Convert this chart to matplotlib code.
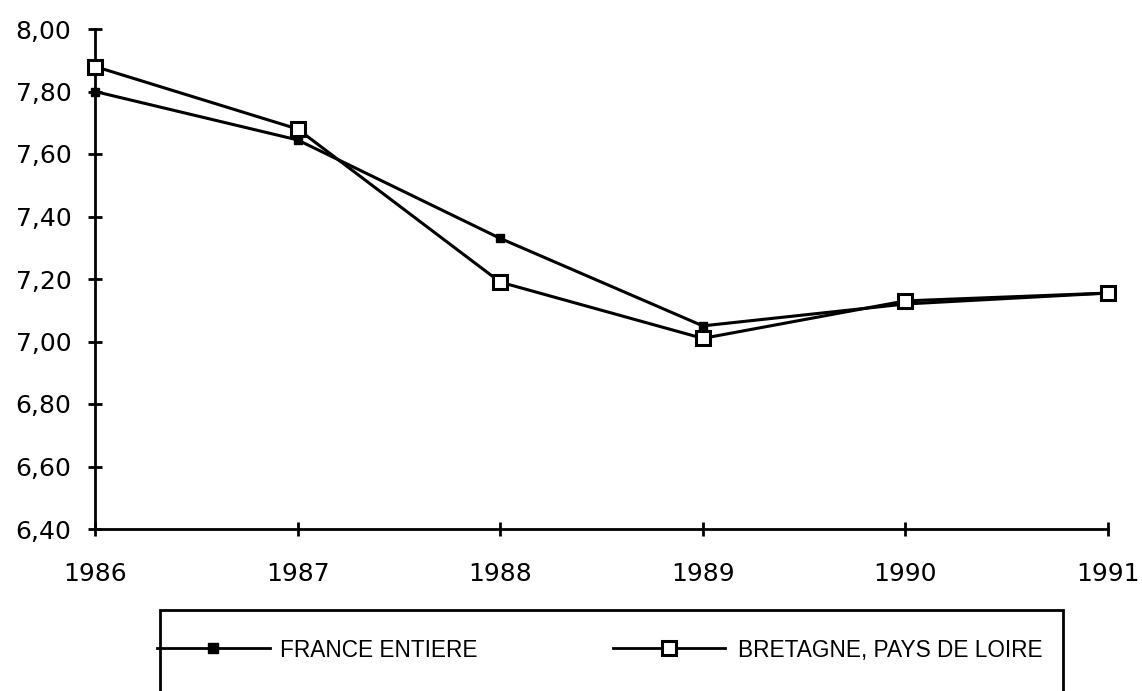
import matplotlib
matplotlib.use("Agg")
import matplotlib.pyplot as plt
from matplotlib.patches import Rectangle
from matplotlib.lines import Line2D

# donnees
annees = [1986, 1987, 1988, 1989, 1990, 1991]
france = [7.80, 7.645, 7.33, 7.05, 7.12, 7.155]
bretagne = [7.88, 7.68, 7.19, 7.01, 7.13, 7.155]
yticks = [6.40, 6.60, 6.80, 7.00, 7.20, 7.40, 7.60, 7.80, 8.00]
ylabels = ["6,40", "6,60", "6,80", "7,00", "7,20", "7,40", "7,60", "7,80", "8,00"]

plt.rcParams['font.family'] = ['DejaVu Sans']

W, H = 1142, 691
fig = plt.figure(figsize=(W / 100, H / 100), dpi=100)
ax = fig.add_axes([95 / W, (H - 529) / H, (1108 - 95) / W, (529 - 29) / H])

ax.plot(annees, france, color='black', lw=2.2, marker='s', ms=5.5,
        mfc='black', mec='black', clip_on=False, zorder=3)
ax.plot(annees, bretagne, color='black', lw=2.2, marker='s', ms=10.5,
        mfc='white', mec='black', mew=2.2, clip_on=False, zorder=4)

ax.set_xlim(1986, 1991)
ax.set_ylim(6.40, 8.00)
ax.set_xticks(annees)
ax.set_xticklabels([str(a) for a in annees], fontsize=18)
ax.set_yticks(yticks)
ax.set_yticklabels(ylabels, fontsize=18)
ax.tick_params(direction='inout', length=10, width=2)
ax.tick_params(axis='y', pad=12)
ax.tick_params(axis='x', pad=19)

for s in ['top', 'right']:
    ax.spines[s].set_visible(False)
for s in ['left', 'bottom']:
    ax.spines[s].set_linewidth(2)

# cadre de la legende (coupe en bas)
fig.patches.append(Rectangle((160 / W, -0.05), (1063 - 160) / W, (H - 610) / H + 0.05,
                             transform=fig.transFigure, fill=False, lw=2, ec='black'))

ly = (H - 648) / H
police = ['Liberation Sans', 'DejaVu Sans']
fig.lines.append(Line2D([157 / W, 270 / W], [ly, ly], transform=fig.transFigure,
                        color='black', lw=2))
fig.lines.append(Line2D([213 / W], [ly], transform=fig.transFigure, marker='s', ms=7,
                        color='black', lw=0))
fig.text(280 / W, ly - 0.004, "FRANCE ENTIERE", fontsize=16.3, va='center', ha='left', family=police)

fig.lines.append(Line2D([613 / W, 725 / W], [ly, ly], transform=fig.transFigure,
                        color='black', lw=2))
fig.lines.append(Line2D([669 / W], [ly], transform=fig.transFigure, marker='s', ms=9.5,
                        mfc='white', mec='black', mew=2.2, lw=0))
fig.text(738 / W, ly - 0.004, "BRETAGNE, PAYS DE LOIRE", fontsize=16.3, va='center', ha='left', family=police)

fig.savefig("out.png", dpi=100)
